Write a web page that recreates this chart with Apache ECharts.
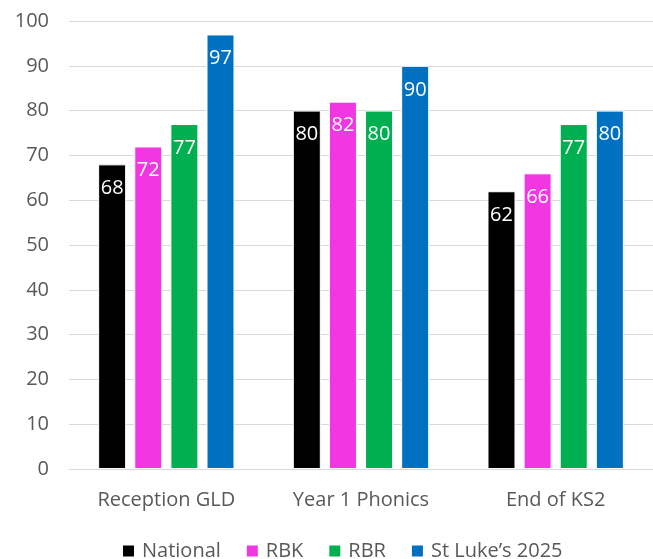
<!DOCTYPE html>
<html>
<head>
<meta charset="utf-8">
<script src="https://cdn.jsdelivr.net/npm/echarts@6/dist/echarts.min.js"></script>
<style>
  html, body { margin: 0; padding: 0; background: #fff; }
  #chart { width: 653px; height: 559px; }
</style>
</head>
<body>
<div id="chart"></div>
<script>
var categories = ['Reception GLD', 'Year 1 Phonics', 'End of KS2']
var national = [68, 80, 62]
var rbk = [72, 82, 66]
var rbr = [77, 80, 77]
var stLukes = [97, 90, 80]
var yTicks = [0, 10, 20, 30, 40, 50, 60, 70, 80, 90, 100]

var font = '"Open Sans", "Noto Sans", sans-serif'

function makeSeries (name, data, color) {
  return {
    name: name,
    type: 'bar',
    data: data,
    barWidth: 28,
    barGap: '29%',
    itemStyle: { color: color, borderColor: '#ffffff', borderWidth: 1 },
    label: {
      show: true,
      position: 'insideTop',
      distance: 14,
      color: '#ffffff',
      fontFamily: font,
      fontSize: 20
    }
  }
}

var myChart = echarts.init(document.getElementById('chart'))

var option = {
  animation: false,
  grid: { left: 69, top: 21, width: 591, height: 448, containLabel: false },
  legend: {
    top: 536,
    left: 116,
    itemWidth: 13,
    itemHeight: 13,
    itemGap: 24,
    icon: 'rect',
    textStyle: { color: '#595959', fontFamily: font, fontSize: 20, padding: [0, 0, 0, 2] },
    data: ['National', 'RBK', 'RBR', 'St Luke\u2019s 2025']
  },
  xAxis: {
    type: 'category',
    data: categories,
    axisTick: { show: false },
    axisLine: { lineStyle: { color: '#d9d9d9', width: 1 } },
    axisLabel: { color: '#595959', fontFamily: font, fontSize: 20, margin: 21 }
  },
  yAxis: {
    type: 'value',
    min: yTicks[0],
    max: yTicks[yTicks.length - 1],
    interval: 10,
    axisLine: { show: false },
    axisTick: { show: false },
    splitLine: { lineStyle: { color: '#d9d9d9', width: 1 } },
    axisLabel: { color: '#595959', fontFamily: font, fontSize: 20, margin: 20 }
  },
  series: [
    makeSeries('National', national, '#000000'),
    makeSeries('RBK', rbk, '#f236e2'),
    makeSeries('RBR', rbr, '#00b050'),
    makeSeries('St Luke\u2019s 2025', stLukes, '#0070c0')
  ]
}

myChart.setOption(option, true)
</script>
</body>
</html>
